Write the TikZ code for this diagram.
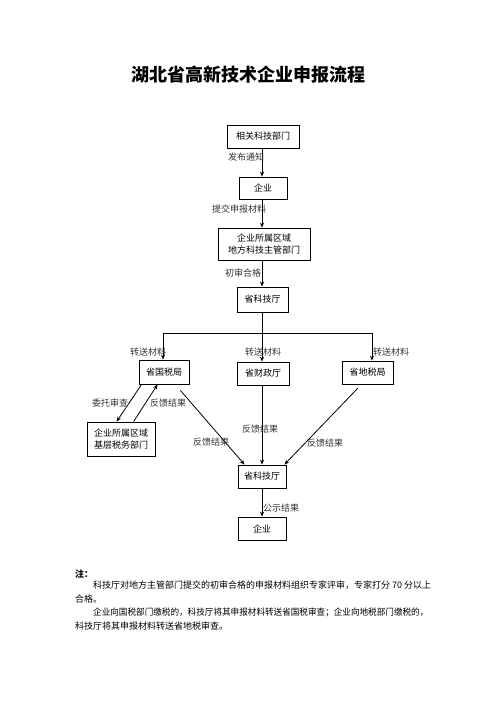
\documentclass[tikz,border=0pt]{standalone}
\usepackage{fontspec}
\usepackage{graphicx}
\setmainfont{Noto Sans CJK SC}
\usetikzlibrary{arrows.meta}
\begin{document}
\begin{tikzpicture}[x=1pt,y=-1pt,
  box/.style={draw,line width=0.8pt,inner sep=0pt,align=center,font=\fontsize{9}{12}\selectfont},
  lbl/.style={anchor=west,inner sep=0pt,font=\fontsize{9}{11}\selectfont,text=black!80},
  conn/.style={line width=0.8pt,-{Stealth[length=5pt,width=4pt]}},
  plain/.style={line width=0.8pt},
  note/.style={anchor=west,inner sep=0pt,font=\fontsize{9}{11}\selectfont}]
\useasboundingbox (0,0) rectangle (496,702);
\node[font=\fontsize{18}{20}\selectfont\bfseries,inner sep=0pt] (title) at (248,75) {湖北省高新技术企业申报流程};

\node[box,minimum width=72pt,minimum height=23pt] (b1) at (263,136.5) {相关科技部门};
\node[box,minimum width=48pt,minimum height=22pt] (b2) at (263,188) {企业};
\node[box,minimum width=92pt,minimum height=32pt] (b3) at (264,244) {企业所属区域\\地方科技主管部门};
\node[box,minimum width=51pt,minimum height=25pt] (b4) at (262.5,299.5) {省科技厅};
\node[box,minimum width=50pt,minimum height=24pt] (gs) at (164,372) {省国税局};
\node[box,minimum width=52pt,minimum height=23pt] (cz) at (263,373.5) {省财政厅};
\node[box,minimum width=51pt,minimum height=23pt] (ds) at (367.5,372.5) {省地税局};
\node[box,minimum width=68pt,minimum height=34pt] (jc) at (121,439) {企业所属区域\\基层税务部门};
\node[box,minimum width=48pt,minimum height=23pt] (k2) at (262,476.5) {省科技厅};
\node[box,minimum width=48pt,minimum height=23pt] (q2) at (262,528.5) {企业};

\coordinate (hm) at (262,333);
\coordinate (hl) at (163,333);
\coordinate (hr) at (372,333);

\draw[conn] (b1.south -| 262,0) -- (b2.north -| 262,0) ;
\draw[conn] (b2.south -| 262,0) -- (b3.north -| 262,0);
\draw[conn] (b3.south -| 262,0) -- (b4.north -| 262,0);
\draw[conn] (b4.south -| hm) -- (cz.north -| hm);
\draw[plain] (hl) -- (hr);
\draw[conn] (hl) -- (hl |- gs.north);
\draw[conn] (hr) -- (hr |- ds.north);

\draw[conn] ([xshift=3pt]gs.south west) -- ([xshift=30pt]jc.north west);
\draw[conn] ([xshift=47pt]jc.north west) -- ([xshift=19pt]gs.south west);
\draw[conn] ([xshift=-9pt,yshift=-6pt]gs.south east) -- ([xshift=7pt]k2.north west);
\draw[conn] (cz.south -| hm) -- (k2.north -| hm);
\draw[conn] ([xshift=16pt,yshift=-4pt]ds.south west) -- ([xshift=-2pt]k2.north east);
\draw[conn] (k2.south -| hm) -- (q2.north -| hm);

\node[lbl] (l1) at (228,157) {发布通知};
\node[lbl] (l2) at (212,209) {提交申报材料};
\node[lbl] (l3) at (225,273) {初审合格};
\node[lbl] (l4) at (130,352) {转送材料};
\node[lbl] (l5) at (245,352) {转送材料};
\node[lbl] (l6) at (373,352) {转送材料};
\node[lbl] (l7) at (92,403) {委托审查};
\node[lbl] (l8) at (150,403) {反馈结果};
\node[lbl] (l9) at (193,442) {反馈结果};
\node[lbl] (l10) at (242,429) {反馈结果};
\node[lbl] (l11) at (307,443) {反馈结果};
\node[lbl] (l12) at (263,508) {公示结果};

\node[note,font=\fontsize{9}{11}\selectfont\bfseries] (n0) at (75,574) {注：};
\node[note] (n1) at (93,585.5) {科技厅对地方主管部门提交的初审合格的申报材料组织专家评审，专家打分 70 分以上};
\node[note] (n2) at (75,599) {合格。};
\node[note] (n3) at (93,612.5) {\scalebox{0.955}[1]{企业向国税部门缴税的，科技厅将其申报材料转送省国税审查；企业向地税部门缴税的，}};
\node[note] (n4) at (75,626) {科技厅将其申报材料转送省地税审查。};
\end{tikzpicture}
\end{document}
